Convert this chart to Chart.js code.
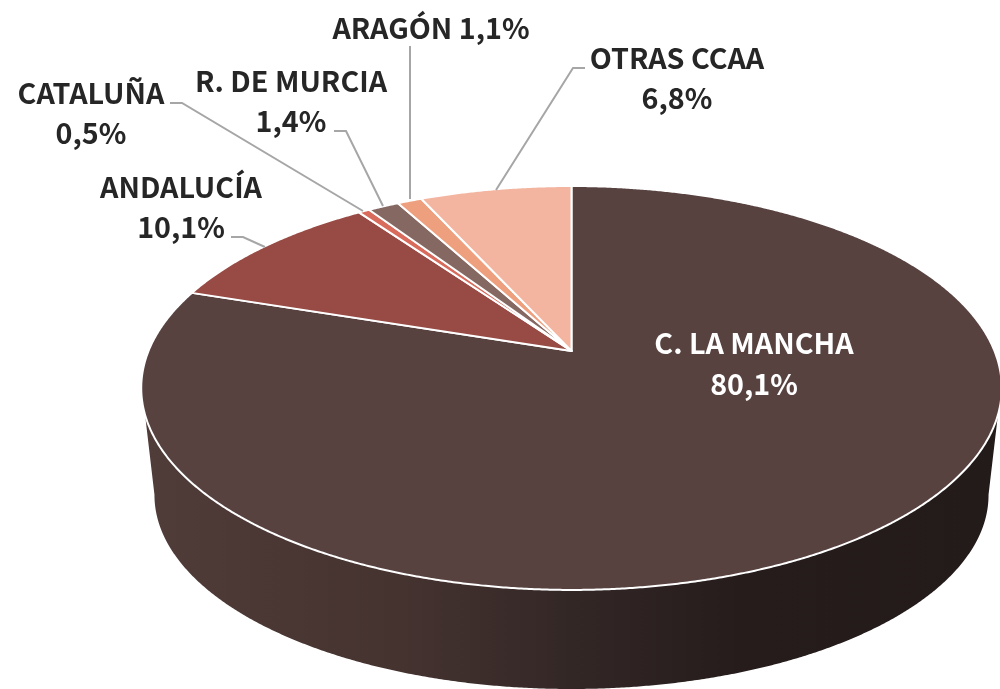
<!DOCTYPE html>
<html>
<head>
<meta charset="utf-8">
<style>
  html, body { margin: 0; background: #fff; }
  canvas { display: block; }
</style>
<script src="https://cdn.jsdelivr.net/npm/chart.js@4"></script>
</head>
<body>
<canvas id="chart" width="1000" height="689"></canvas>
<script>
const categories = ['C. LA MANCHA', 'ANDALUCÍA', 'CATALUÑA', 'R. DE MURCIA', 'ARAGÓN', 'OTRAS CCAA']
const shares = [80.1, 10.1, 0.5, 1.4, 1.1, 6.8]
const colors = ['#574240', '#984a44', '#d96b5d', '#866862', '#ee9f7d', '#f3b5a0']

// label centres and leader lines, same order as categories
const labelSpots = [
  { x: 754, y: 343, gap: 41, color: '#ffffff' },
  { x: 181, y: 187, gap: 40, line: [[231, 237], [243, 237], [265, 247]] },
  { x: 91, y: 93, gap: 40, line: [[170, 103], [182, 103], [363, 211]] },
  { x: 291, y: 81, gap: 40, line: [[334, 131], [346, 131], [383, 206]] },
  { x: 431, y: 28, oneLine: true, line: [[410, 46], [410, 199]] },
  { x: 677, y: 58, gap: 40, line: [[585, 68], [573, 68], [496, 190]] },
]

// the pie is tilted: both faces are the circle seen through a perspective
const topFace = { cx: 571.5, cy: 351, r: 423, s: 195.2, k: 0.183 }
const bottomFace = { cx: 571.5, cy: 459.5, r: 410, s: 187.5, k: 0.183 }

const project = (face, angle) => {
  const w = 1 - face.k * Math.sin(angle)
  return [face.cx + face.r * Math.cos(angle) / w, face.cy + face.s * Math.sin(angle) / w]
}

const traceRim = (ctx, face, from, to) => {
  const steps = Math.max(2, Math.ceil(Math.abs(to - from) * 200))
  for (let i = 0; i <= steps; i++) {
    const p = project(face, from + (to - from) * i / steps)
    ctx.lineTo(p[0], p[1])
  }
}

const drawWall = ctx => {
  const grad = ctx.createLinearGradient(144, 0, 997, 0)
  grad.addColorStop(0, '#503c39')
  grad.addColorStop(0.3, '#453330')
  grad.addColorStop(0.5, '#332726')
  grad.addColorStop(0.7, '#261c1c')
  grad.addColorStop(1, '#231a1a')
  ctx.beginPath()
  traceRim(ctx, topFace, 18 * Math.PI / 180, 162 * Math.PI / 180)
  traceRim(ctx, bottomFace, 169.5 * Math.PI / 180, 10.5 * Math.PI / 180)
  ctx.closePath()
  ctx.fillStyle = grad
  ctx.fill()
}

const perspectivePie = {
  id: 'perspectivePie',
  beforeDatasetsDraw(chart) {
    const ctx = chart.ctx
    ctx.save()
    drawWall(ctx)
    chart.getDatasetMeta(0).data.forEach(arc => {
      ctx.beginPath()
      ctx.moveTo(topFace.cx, topFace.cy)
      traceRim(ctx, topFace, arc.startAngle, arc.endAngle)
      ctx.closePath()
      ctx.fillStyle = arc.options.backgroundColor
      ctx.fill()
      ctx.strokeStyle = arc.options.borderColor
      ctx.lineWidth = arc.options.borderWidth
      ctx.lineJoin = 'round'
      ctx.stroke()
    })
    ctx.restore()
    return false
  },
  afterDraw(chart) {
    const ctx = chart.ctx
    ctx.save()
    ctx.font = 'bold 28.7px "Noto Sans CJK SC", "Noto Sans", sans-serif'
    ctx.textAlign = 'center'
    ctx.textBaseline = 'middle'
    categories.forEach((name, i) => {
      const spot = labelSpots[i]
      const share = shares[i].toFixed(1).replace('.', ',') + '%'
      if (spot.line) {
        ctx.beginPath()
        spot.line.forEach(p => ctx.lineTo(p[0], p[1]))
        ctx.strokeStyle = '#a6a6a6'
        ctx.lineWidth = 2
        ctx.stroke()
      }
      ctx.fillStyle = spot.color || '#262626'
      if (spot.oneLine) {
        ctx.fillText(name + ' ' + share, spot.x, spot.y)
      } else {
        ctx.fillText(name, spot.x, spot.y)
        ctx.fillText(share, spot.x, spot.y + spot.gap)
      }
    })
    ctx.restore()
  },
}

new Chart(document.getElementById('chart'), {
  type: 'pie',
  data: {
    labels: categories,
    datasets: [{ data: shares, backgroundColor: colors, borderColor: '#ffffff', borderWidth: 2 }],
  },
  options: {
    responsive: false,
    animation: false,
    plugins: { legend: { display: false }, tooltip: { enabled: false } },
  },
  plugins: [perspectivePie],
})
</script>
</body>
</html>
